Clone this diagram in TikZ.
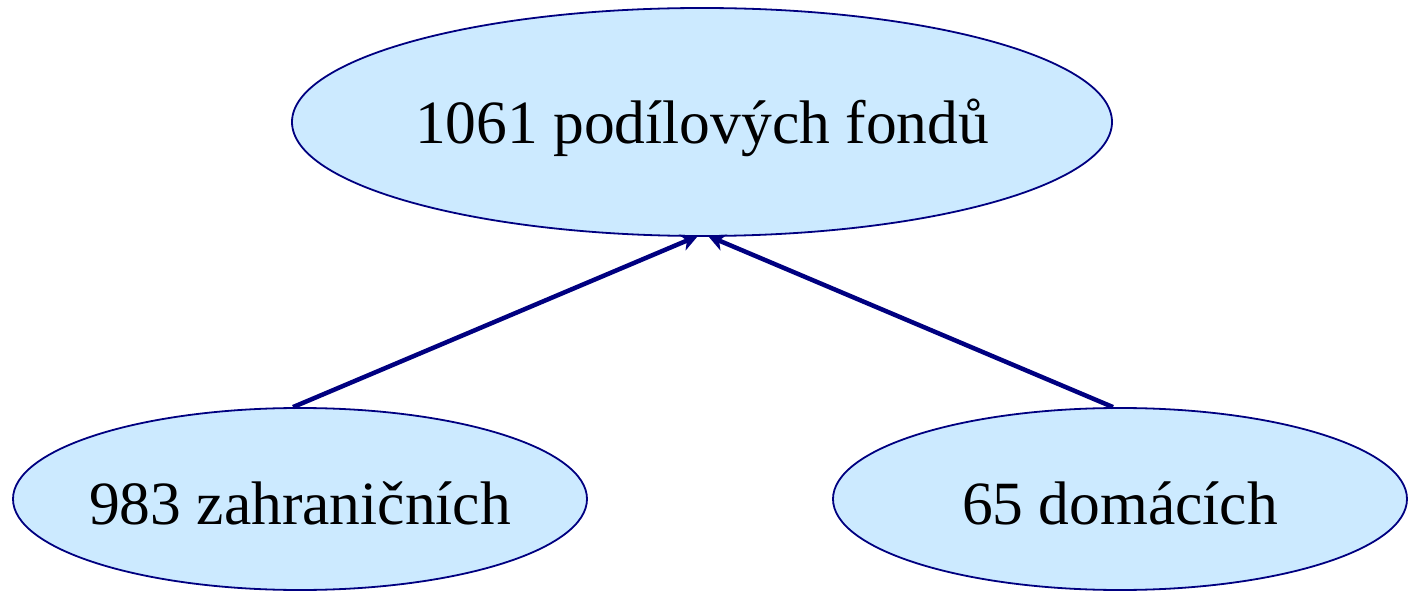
\documentclass[tikz,border=0pt]{standalone}
\usepackage{fontspec}
\setmainfont{Liberation Serif}
\usetikzlibrary{shapes.geometric,arrows.meta}
\definecolor{navy}{HTML}{000080}
\definecolor{lightfill}{HTML}{CCEAFF}
\newcommand{\fundtext}[2]{\makebox[0pt]{\raisebox{#1}[0pt][0pt]{#2}}}
\tikzset{
  fund/.style={ellipse, draw=navy, line width=1.8pt, fill=lightfill, inner sep=0pt,
    font=\fontsize{61.5}{66}\selectfont},
  link/.style={draw=navy, line width=4.5pt, -{Stealth[length=17pt,width=17pt,inset=5pt]}}
}
\begin{document}
\begin{tikzpicture}[x=1pt,y=-1pt]
\useasboundingbox (0,0) rectangle (1413,593);
\node[fund, minimum width=820pt, minimum height=228pt] (top) at (702,122) {\fundtext{-22pt}{1061 podílových fondů}};
\node[fund, minimum width=574pt, minimum height=182pt] (left) at (300,499) {\fundtext{-25pt}{983 zahraničních}};
\node[fund, minimum width=574pt, minimum height=182pt] (right) at (1120,499) {\fundtext{-25pt}{65 domácích}};
\draw[link] ([xshift=-7pt]left.north) -- ([xshift=-4pt,yshift=1pt]top.south);
\draw[link] ([xshift=-7pt]right.north) -- ([xshift=6pt,yshift=1pt]top.south);
\end{tikzpicture}
\end{document}
